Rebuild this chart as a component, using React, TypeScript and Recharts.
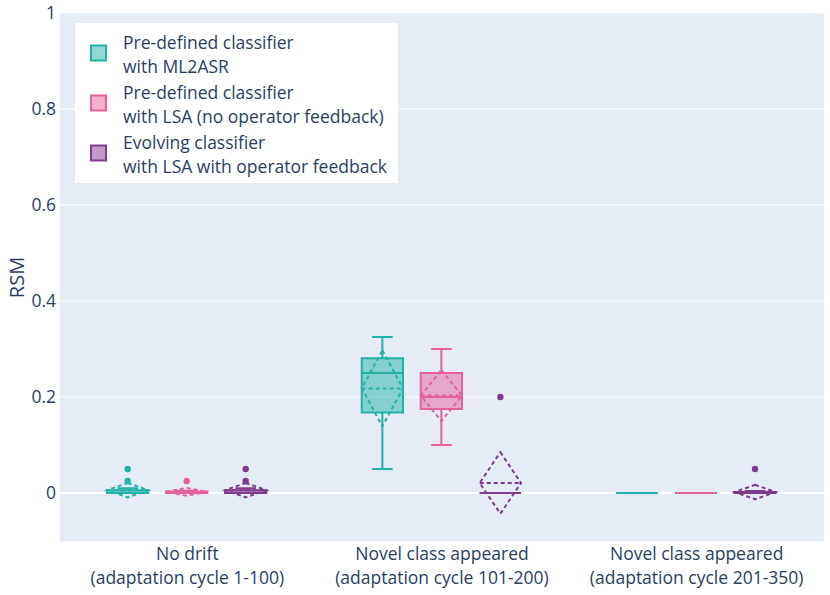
import React from 'react';
import { ComposedChart, Bar, XAxis, YAxis, CartesianGrid, Legend } from 'recharts';

const FONT = '"Open Sans", "Noto Sans", sans-serif';
const TEXT = '#2a3f5f';
const FS = 17.5;

// Category labels (two lines each)
const categoryLines: string[][] = [
  ['No drift', '(adaptation cycle 1-100)'],
  ['Novel class appeared', '(adaptation cycle 101-200)'],
  ['Novel class appeared', '(adaptation cycle 201-350)'],
];

// Series names (two lines each) and colours
const seriesNames: string[][] = [
  ['Pre-defined classifier', 'with ML2ASR'],
  ['Pre-defined classifier', 'with LSA (no operator feedback)'],
  ['Evolving classifier', 'with LSA with operator feedback'],
];
const seriesColors = ['#22b3a7', '#e5619b', '#7f3c8d'];

// Box statistics per category: [lower whisker, Q1, median, Q3, upper whisker]
const ml2asrBox = [
  [0, 0, 0, 0.006, 0.01],
  [0.05, 0.168, 0.25, 0.281, 0.325],
  [0, 0, 0, 0, 0],
];
const ml2asrMean = [0.006, 0.218, 0];
const ml2asrSd = [0.015, 0.079, 0];
const ml2asrOutliers = [[0.025, 0.05], [], []];

const lsaBox = [
  [0, 0, 0, 0.003, 0.005],
  [0.1, 0.175, 0.2, 0.25, 0.3],
  [0, 0, 0, 0, 0],
];
const lsaMean = [0.0025, 0.203, 0];
const lsaSd = [0.008, 0.053, 0];
const lsaOutliers = [[0.025], [], []];

const evolvingBox = [
  [0, 0, 0, 0.006, 0.01],
  [0, 0, 0, 0, 0],
  [0, 0, 0, 0.002, 0.004],
];
const evolvingMean = [0.006, 0.021, 0.002];
const evolvingSd = [0.015, 0.064, 0.015];
const evolvingOutliers = [[0.025, 0.05], [0.2], [0.05]];

// Y axis ticks and domain
const yTicks = [0, 0.2, 0.4, 0.6, 0.8, 1];
const yDomain: [number, number] = [-0.102, 1];
// reference span [0, 1] used to obtain the value->pixel mapping of the y scale
const UNIT_SPAN = [0, 1];

const boxes = [ml2asrBox, lsaBox, evolvingBox];
const means = [ml2asrMean, lsaMean, evolvingMean];
const sds = [ml2asrSd, lsaSd, evolvingSd];
const outliers = [ml2asrOutliers, lsaOutliers, evolvingOutliers];

const data = categoryLines.map((lines, ci) => ({
  cat: lines.join('|'),
  stats: boxes.map((b, si) => ({
    box: b[ci],
    mean: means[si][ci],
    sd: sds[si][ci],
    outliers: outliers[si][ci],
  })),
}));

const makeShape = (si: number) => (props: any) => {
  const { x, y, width, height, payload } = props;
  if (!payload) return null;
  const st = payload.stats[si];
  const color = seriesColors[si];
  const base = y + height;
  const py = (v: number) => base - v * height;
  const cx = x + width / 2;
  const bw = width * 0.7;
  const x0 = cx - bw / 2;
  const x1 = cx + bw / 2;
  const cw = bw * 0.25;
  const [lo, q1, med, q3, hi] = st.box;
  const m = st.mean;
  const sd = st.sd;
  return (
    <g>
      <path
        d={`M${x0},${py(q1)}H${x1}V${py(q3)}H${x0}Z`}
        fill={color}
        fillOpacity={0.5}
        stroke={color}
        strokeWidth={2}
      />
      <path d={`M${x0},${py(med)}H${x1}`} stroke={color} strokeWidth={2} fill="none" />
      <path
        d={`M${cx},${py(q3)}V${py(hi)}M${cx - cw},${py(hi)}H${cx + cw}M${cx},${py(q1)}V${py(lo)}M${cx - cw},${py(lo)}H${cx + cw}`}
        stroke={color}
        strokeWidth={2}
        fill="none"
      />
      <path
        d={`M${x0},${py(m)}H${x1}M${cx},${py(m + sd)}L${x1},${py(m)}L${cx},${py(m - sd)}L${x0},${py(m)}Z`}
        stroke={color}
        strokeWidth={2}
        strokeDasharray="4,3"
        fill="none"
      />
      {st.outliers.map((v: number, k: number) => (
        <circle key={k} cx={cx} cy={py(v)} r={3.2} fill={color} />
      ))}
    </g>
  );
};

const CatTick = (props: any) => {
  const { x, y, payload } = props;
  const lines = String(payload.value).split('|');
  return (
    <text x={x} y={y + 18} textAnchor="middle" fill={TEXT} fontSize={FS} fontFamily={FONT}>
      <tspan x={x} dy={0}>{lines[0]}</tspan>
      <tspan x={x} dy={24}>{lines[1]}</tspan>
    </text>
  );
};

const RsmLabel = (props: any) => {
  const vb = props.viewBox || { y: 13, height: 529 };
  const cy = vb.y + vb.height / 2;
  return (
    <text
      x={16}
      y={cy}
      transform={`rotate(-90, 16, ${cy})`}
      textAnchor="middle"
      dominantBaseline="central"
      fill={TEXT}
      fontSize={20}
      fontFamily={FONT}
    >
      RSM
    </text>
  );
};

const GridLine = (props: any) => {
  const { x1, x2, y1, y2, index } = props;
  return <line x1={x1} x2={x2} y1={y1} y2={y2} stroke="#ffffff" strokeWidth={index === 0 ? 2 : 1} />;
};

const LegendBox = () => (
  <svg width={323} height={160} style={{ display: 'block' }}>
    <rect x={0} y={0} width={323} height={160} fill="#ffffff" />
    {seriesNames.map((lines, i) => {
      const c = 30 + i * 50;
      return (
        <g key={i}>
          <rect
            x={16}
            y={c - 7.5}
            width={15}
            height={15}
            fill={seriesColors[i]}
            fillOpacity={0.5}
            stroke={seriesColors[i]}
            strokeWidth={2}
          />
          <text x={48} y={c - 4} fill={TEXT} fontSize={FS} fontFamily={FONT}>
            <tspan x={48} dy={0}>{lines[0]}</tspan>
            <tspan x={48} dy={23.5}>{lines[1]}</tspan>
          </text>
        </g>
      );
    })}
  </svg>
);

export default function App() {
  return (
    <div style={{ position: 'absolute', left: 0, top: 0, width: 830, height: 595, background: '#fff' }}>
      <ComposedChart
        width={830}
        height={595}
        data={data}
        margin={{ top: 13, right: 6, bottom: 0, left: 0 }}
        barCategoryGap="15%"
        barGap={0}
      >
        <CartesianGrid fill="#E5ECF6" stroke="#ffffff" vertical={false} horizontal={<GridLine />} />
        <XAxis
          dataKey="cat"
          axisLine={false}
          tickLine={false}
          tickSize={0}
          tickMargin={0}
          height={53}
          tick={<CatTick />}
          interval={0}
        />
        <YAxis
          type="number"
          domain={yDomain}
          ticks={yTicks}
          allowDataOverflow
          axisLine={false}
          tickLine={false}
          tickSize={0}
          tickMargin={4}
          width={60}
          interval={0}
          tickFormatter={(v: number) => String(v)}
          tick={{ fill: TEXT, fontSize: FS, fontFamily: FONT }}
          label={<RsmLabel />}
        />
        {seriesNames.map((n, si) => (
          <Bar
            key={si}
            name={n.join(' ')}
            dataKey={() => UNIT_SPAN}
            fill={seriesColors[si]}
            shape={makeShape(si)}
            isAnimationActive={false}
          />
        ))}
        <Legend
          layout="vertical"
          align="center"
          verticalAlign="middle"
          content={() => <LegendBox />}
          wrapperStyle={{ position: 'absolute', left: 75, top: 23, width: 323, height: 160 }}
        />
      </ComposedChart>
    </div>
  );
}
